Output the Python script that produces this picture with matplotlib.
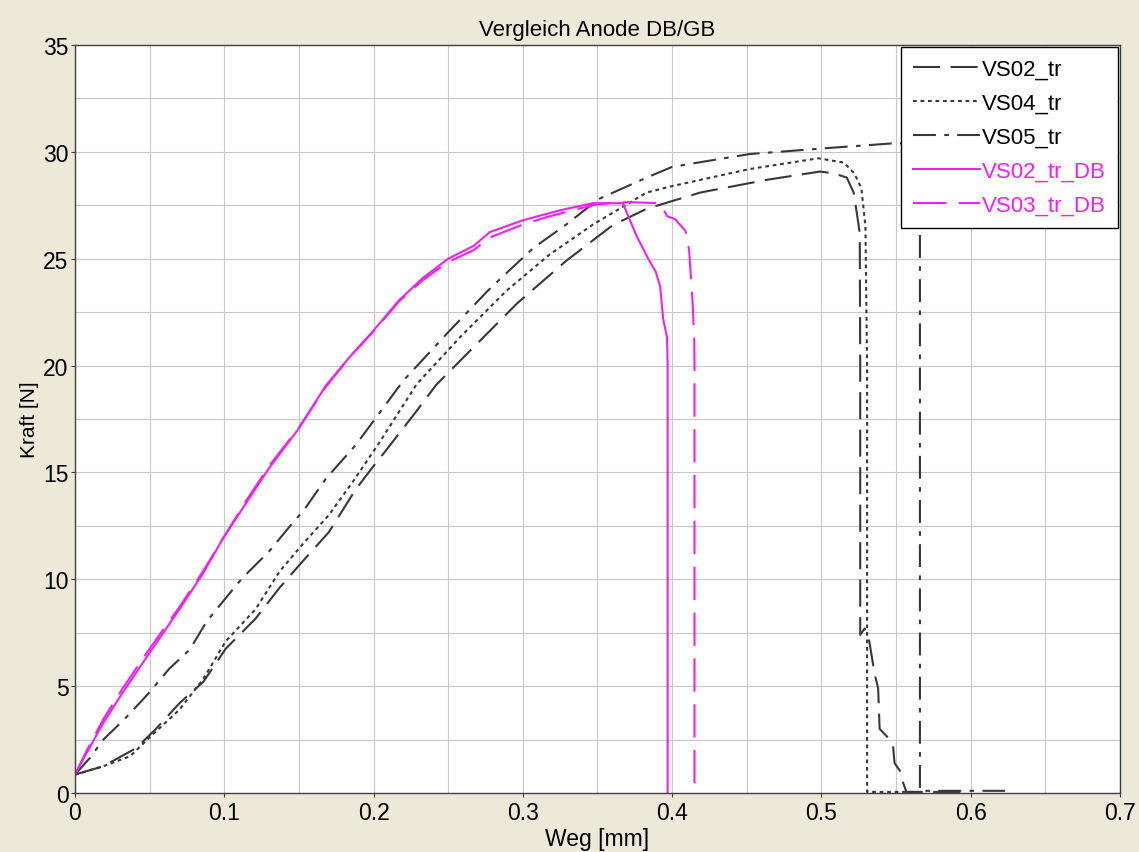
import numpy as np
import matplotlib
matplotlib.use("Agg")
import matplotlib.pyplot as plt

plt.rcParams['font.family'] = ['Liberation Sans', 'DejaVu Sans']

# Weg [mm] / Kraft [N]
vs02_x = [0, 0.019, 0.041, 0.054, 0.07, 0.086, 0.101, 0.121, 0.137, 0.152, 0.17, 0.188, 0.2,
          0.208, 0.228, 0.242, 0.269, 0.296, 0.329, 0.36, 0.383, 0.419, 0.464, 0.499, 0.508,
          0.517, 0.5216, 0.5238, 0.5257, 0.526, 0.526, 0.529, 0.5316, 0.533, 0.5356, 0.538,
          0.539, 0.5445, 0.548, 0.549, 0.5525, 0.5547, 0.557, 0.58, 0.60]
vs02_y = [0.86, 1.25, 2.1, 2.98, 4.2, 5.2, 6.75, 8.16, 9.6, 10.8, 12.2, 14.2, 15.3,
          16.0, 17.8, 19.1, 21.0, 22.9, 24.9, 26.56, 27.34, 28.1, 28.7, 29.08, 29.0,
          28.8, 28.1, 27.1, 26.2, 20.0, 7.4, 7.7, 7.3, 6.7, 5.6, 4.9,
          3.0, 2.6, 2.2, 1.4, 1.05, 0.48, 0.05, 0.05, 0.05]

vs04_x = [0, 0.019, 0.037, 0.05, 0.07, 0.086, 0.101, 0.121, 0.137, 0.152, 0.17, 0.186, 0.203,
          0.229, 0.258, 0.289, 0.318, 0.347, 0.383, 0.4, 0.452, 0.498, 0.515, 0.522, 0.5268,
          0.5295, 0.5306, 0.5306, 0.545, 0.565]
vs04_y = [0.86, 1.25, 1.72, 2.6, 3.9, 5.34, 7.1, 8.6, 10.36, 11.6, 13.0, 14.55, 16.3,
          19.14, 21.33, 23.5, 25.2, 26.6, 28.1, 28.4, 29.2, 29.7, 29.5, 29.0, 28.3,
          26.5, 20.0, 0.05, 0.05, 0.05]

vs05_x = [0, 0.01, 0.019, 0.033, 0.048, 0.063, 0.077, 0.088, 0.099, 0.112, 0.13, 0.143, 0.154,
          0.168, 0.188, 0.201, 0.22, 0.25, 0.2765, 0.284, 0.307, 0.329, 0.351, 0.383, 0.4,
          0.452, 0.508, 0.548, 0.556, 0.562, 0.566, 0.566, 0.59, 0.623]
vs05_y = [0.86, 1.64, 2.5, 3.44, 4.56, 5.8, 6.72, 8.0, 8.95, 10.05, 11.3, 12.4, 13.3,
          14.7, 16.28, 17.5, 19.3, 21.56, 23.5, 24.0, 25.5, 26.6, 27.8, 28.8, 29.3,
          29.9, 30.2, 30.4, 30.4, 30.0, 29.0, 0.1, 0.1, 0.1]

db02_x = [0, 0.0078, 0.019, 0.032, 0.05, 0.07, 0.086, 0.099, 0.114, 0.13, 0.15, 0.168, 0.184,
          0.2, 0.217, 0.233, 0.25, 0.267, 0.278, 0.3, 0.325, 0.347, 0.367, 0.376, 0.384,
          0.389, 0.392, 0.394, 0.3966, 0.397, 0.397]
db02_y = [0.86, 1.87, 3.28, 4.7, 6.56, 8.6, 10.3, 11.9, 13.5, 15.2, 17.06, 19.06, 20.4,
          21.64, 23.05, 24.1, 25.0, 25.6, 26.25, 26.8, 27.27, 27.6, 27.6, 26.1, 25.0,
          24.4, 23.7, 22.2, 21.3, 20.0, 0.0]

db03_x = [0, 0.008, 0.019, 0.032, 0.05, 0.07, 0.086, 0.1, 0.114, 0.13, 0.15, 0.168, 0.184,
          0.2, 0.217, 0.233, 0.25, 0.267, 0.278, 0.3, 0.316, 0.335, 0.35, 0.37, 0.392,
          0.3966, 0.402, 0.409, 0.4114, 0.4136, 0.4148, 0.415, 0.415]
db03_y = [0.86, 2.0, 3.45, 4.9, 6.75, 8.7, 10.4, 12.0, 13.6, 15.3, 17.1, 19.0, 20.4,
          21.6, 23.0, 24.0, 24.85, 25.4, 26.0, 26.6, 26.95, 27.3, 27.55, 27.65, 27.6,
          27.0, 26.85, 26.3, 25.4, 23.1, 21.3, 20.0, 0.3]

gray = '#383838'
mag = '#f020f0'

fig = plt.figure(figsize=(11.39, 8.53), dpi=100, facecolor='#ece9d8')
ax = fig.add_axes([0.0658, 0.0692, 0.9175, 0.8768])
ax.set_facecolor('white')

lw = 1.5
ax.plot(vs02_x, vs02_y, color=gray, lw=lw, ls=(0, (13, 5)), label='VS02_tr')
ax.plot(vs04_x, vs04_y, color=gray, lw=lw, ls=(0, (1.8, 1.8)), label='VS04_tr')
ax.plot(vs05_x, vs05_y, color=gray, lw=lw, ls=(0, (11, 4, 2.2, 4)), label='VS05_tr')
ax.plot(db02_x, db02_y, color=mag, lw=lw, ls='-', label='VS02_tr_DB')
ax.plot(db03_x, db03_y, color=mag, lw=lw, ls=(0, (16, 6)), label='VS03_tr_DB')

ax.set_xlim(0, 0.7)
ax.set_ylim(0, 35)
ax.set_xticks(np.arange(0, 0.71, 0.1))
ax.set_xticklabels(['0', '0.1', '0.2', '0.3', '0.4', '0.5', '0.6', '0.7'])
ax.set_yticks(np.arange(0, 36, 5))
ax.set_xticks(np.arange(0.05, 0.7, 0.1), minor=True)
ax.set_yticks(np.arange(2.5, 35, 5), minor=True)
ax.grid(True, which='both', color='#c8c8c8', lw=0.8)
ax.set_axisbelow(True)
ax.tick_params(which='major', direction='out', length=3, width=0.8, color='#404040',
               labelsize=16.5, pad=1.5)
ax.tick_params(axis='x', which='major', pad=3)
ax.tick_params(which='minor', length=0)
for s in ax.spines.values():
    s.set_color('#404040')
    s.set_linewidth(1.0)

ax.set_title('Vergleich Anode DB/GB', fontsize=16, pad=7.5)
ax.set_xlabel('Weg [mm]', fontsize=16.5, labelpad=2)
ax.set_ylabel('Kraft [N]', fontsize=15, labelpad=3)

leg = ax.legend(loc='upper right', bbox_to_anchor=(0.998, 0.998), borderaxespad=0,
                fontsize=16, fancybox=False, framealpha=1, edgecolor='black',
                handlelength=3.0, handletextpad=0.1, labelspacing=0.58,
                borderpad=0.55)
leg.get_frame().set_linewidth(1.0)
for txt, col in zip(leg.get_texts(), ['black', 'black', 'black', mag, mag]):
    txt.set_color(col)

fig.savefig('out.png', dpi=100, facecolor=fig.get_facecolor())
